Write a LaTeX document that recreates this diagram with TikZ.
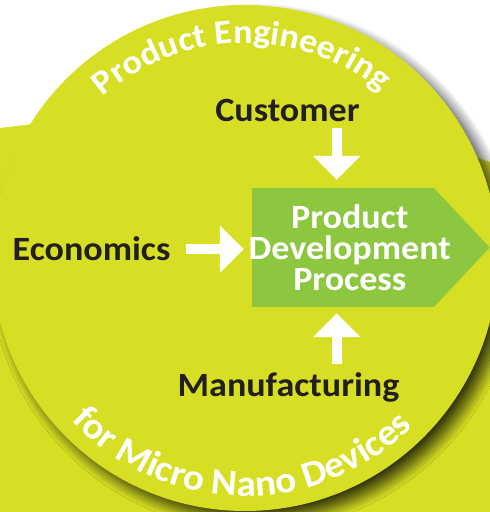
\documentclass[tikz,border=0pt]{standalone}
\usepackage{fontspec}
\setmainfont{Carlito}[FakeStretch=1.06]
\usepackage{tikz}
\usetikzlibrary{
  arrows.meta,
  decorations.text,
  shadows.blur
}

\definecolor{limefill}{HTML}{D6DF23}
\definecolor{procgreen}{HTML}{8DC63F}
\definecolor{inktext}{HTML}{231F20}

\newcommand{\ringfont}{\fontsize{34}{34}\selectfont\bfseries}
\newcommand{\ringfontlow}{\fontsize{37}{37}\selectfont\bfseries}

\begin{document}
\begin{tikzpicture}[
  x=1pt, y=1pt,
  word/.style={text=inktext, font=\fontsize{34}{34}\selectfont\bfseries, inner sep=0pt, anchor=base},
  procbox/.style={fill=procgreen, minimum width=181.5pt, minimum height=119pt, inner sep=0pt},
  proctext/.style={text=white, font=\fontsize{34}{31}\selectfont\bfseries, align=center, inner sep=0pt},
  blockarrow/.style={white, line width=10pt, -{Triangle[width=46pt, length=24pt]}},
  ringtext/.style 2 args={decorate, decoration={text along path, text align=center, text color=white, text={|#1|#2}}}
]
\useasboundingbox (0,0) rectangle (490,512);

% page behind the disc
\fill[limefill] (0,384) -- (25,387) -- (284,418) -- (490,350) -- (490,0) -- (0,0) -- cycle;

% the disc
\coordinate (hub) at (245,254);
\fill[limefill, blur shadow={shadow xshift=9pt, shadow yshift=-9pt, shadow blur radius=11pt, shadow opacity=75, shadow blur steps=14}]
  (hub) circle[radius=253];

\path[ringtext={\ringfont}{Product Engineering}] ([shift={(170:215)}]hub) arc[start angle=170, end angle=12, radius=215];
\path[ringtext={\ringfontlow}{for Micro Nano Devices}] ([shift={(199:238)}]hub) arc[start angle=199, end angle=339, radius=238];

% process box with its pointer
\node[procbox] (pdp) at (342.75,264.5) {};
\fill[procgreen] (pdp.north east) -- ([xshift=56pt]pdp.east) -- (pdp.south east) -- cycle;
\node[proctext] (pdptext) at ([xshift=7pt]pdp.center) {Product\\Development\\Process};

\node[word] (cust) at (287.5,390) {Customer};
\node[word] (econ) at (91.5,251) {Economics};
\node[word] (mfg) at (288.5,115) {Manufacturing};

\draw[blockarrow, shorten <=6pt, shorten >=8pt] ([xshift=-6pt]pdp.north |- cust.south) -- ([xshift=-6pt]pdp.north);
\draw[blockarrow, shorten <=15pt, shorten >=8pt] (econ.east) -- (econ.east -| pdp.west);
\draw[blockarrow, shorten <=9pt, shorten >=6pt] ([xshift=-6pt]pdp.south |- mfg.north) -- ([xshift=-6pt]pdp.south);
\end{tikzpicture}
\end{document}
